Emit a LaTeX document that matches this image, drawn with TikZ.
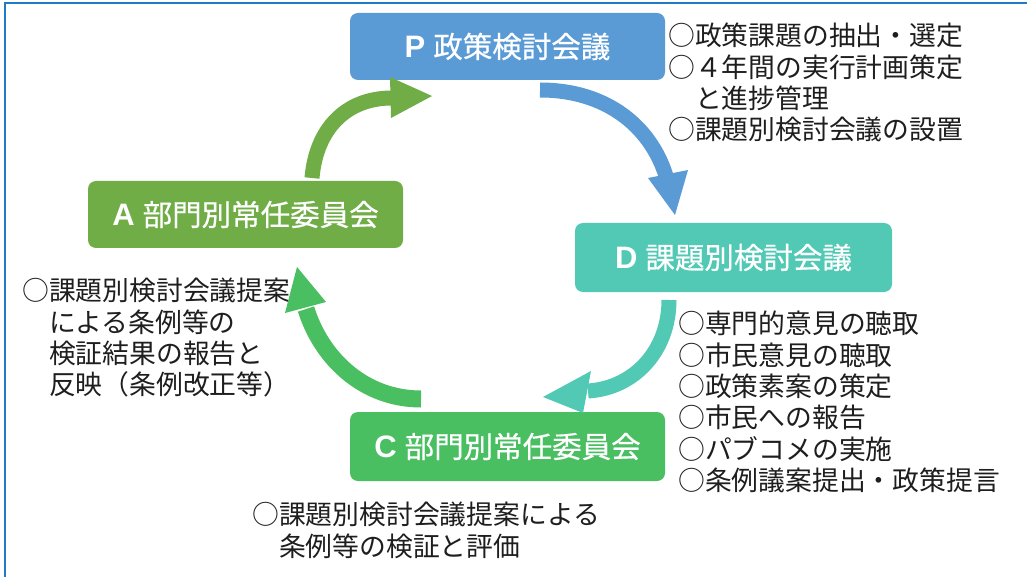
\documentclass[tikz,border=0pt]{standalone}
\usepackage{fontspec}
\newfontfamily\jp{Noto Sans CJK JP}
\newfontfamily\jpb{Noto Sans CJK JP}[FakeBold=0.6]
\newfontfamily\lat{Liberation Sans}
\definecolor{pblue}{HTML}{5B9BD5}
\definecolor{dteal}{HTML}{52C9B5}
\definecolor{agreen}{HTML}{70AD47}
\definecolor{cgreen}{HTML}{4ABF62}
\definecolor{frame}{HTML}{1F7AC8}
\definecolor{txt}{HTML}{1E1E1E}
\begin{document}
\begin{tikzpicture}[x=1pt,y=-1pt,
  box/.style={rounded corners=8pt, minimum width=315pt, minimum height=67pt, inner sep=0pt,
    text=white, font=\jpb\fontsize{29.5}{32}\selectfont},
  lst/.style={anchor=north west, inner sep=0pt, align=left, text=txt,
    font=\jp\fontsize{26.8}{31.3}\selectfont},
  body/.style={line width=15pt, line cap=butt}
]
\useasboundingbox (0,0) rectangle (1027,577);
\fill[white] (0,0) rectangle (1027,577);
\draw[frame, line width=2.5pt] (5,577) -- (5,3) -- (1027,3);

% boxes
\node[box, fill=pblue] (P) at (507.5,46.5) {{\lat\bfseries\fontsize{31}{32}\selectfont P}\hspace{8pt}政策検討会議};
\node[box, fill=dteal, minimum width=317pt, minimum height=69pt] (D) at (733.5,257.5) {{\lat\bfseries\fontsize{31}{32}\selectfont D}\hspace{8pt}課題別検討会議};
\node[box, fill=agreen] (A) at (245.5,214.5) {{\lat\bfseries\fontsize{31}{32}\selectfont A}\hspace{8pt}部門別常任委員会};
\node[box, fill=cgreen, minimum height=69pt] (C) at (507.5,446.5) {{\lat\bfseries\fontsize{31}{32}\selectfont C}\hspace{8pt}部門別常任委員会};

% lists
\node[lst] (pl) at (668,23) {○政策課題の抽出・選定\\○４年間の実行計画策定\\　と進捗管理\\○課題別検討会議の設置};
\node[lst] (dl) at (678,311) {○専門的意見の聴取\\○市民意見の聴取\\○政策素案の策定\\○市民への報告\\○パブコメの実施\\○条例議案提出・政策提言};
\node[lst] (al) at (22,278) {○課題別検討会議提案\\　による条例等の\\　検証結果の報告と\\　反映（条例改正等）};
\node[lst] (cl) at (252,502) {○課題別検討会議提案による\\　条例等の検証と評価};

% arrow end points
\coordinate (ap1) at (312,178);
\coordinate (ap2) at (392,98);
\coordinate (pd1) at (540,90);
\coordinate (pd2) at (666,176);
\coordinate (dc1) at (669,300);
\coordinate (dc2) at (588,391);
\coordinate (ca1) at (421,399);
\coordinate (ca2) at (306,309);

% A -> P
\draw[body, agreen] (ap1) .. controls (316,130) and (345,98) .. (ap2);
\fill[agreen] (390,77) -- (432,96) -- (391,118) -- cycle;
% P -> D
\draw[body, pblue] (pd1) .. controls (605,90) and (650,125) .. (pd2);
\fill[pblue] (648,178) -- (688,170) -- (675,215) -- cycle;
% D -> C
\draw[body, dteal] (dc1) .. controls (669,350) and (635,388) .. (dc2);
\fill[dteal] (591,371) -- (583,413) -- (543,397) -- cycle;
% C -> A
\draw[body, cgreen, line width=17pt] (ca1) .. controls (365,399) and (322,360) .. (ca2);
\fill[cgreen] (285,313) -- (326,302) -- (297,267) -- cycle;
\end{tikzpicture}
\end{document}
